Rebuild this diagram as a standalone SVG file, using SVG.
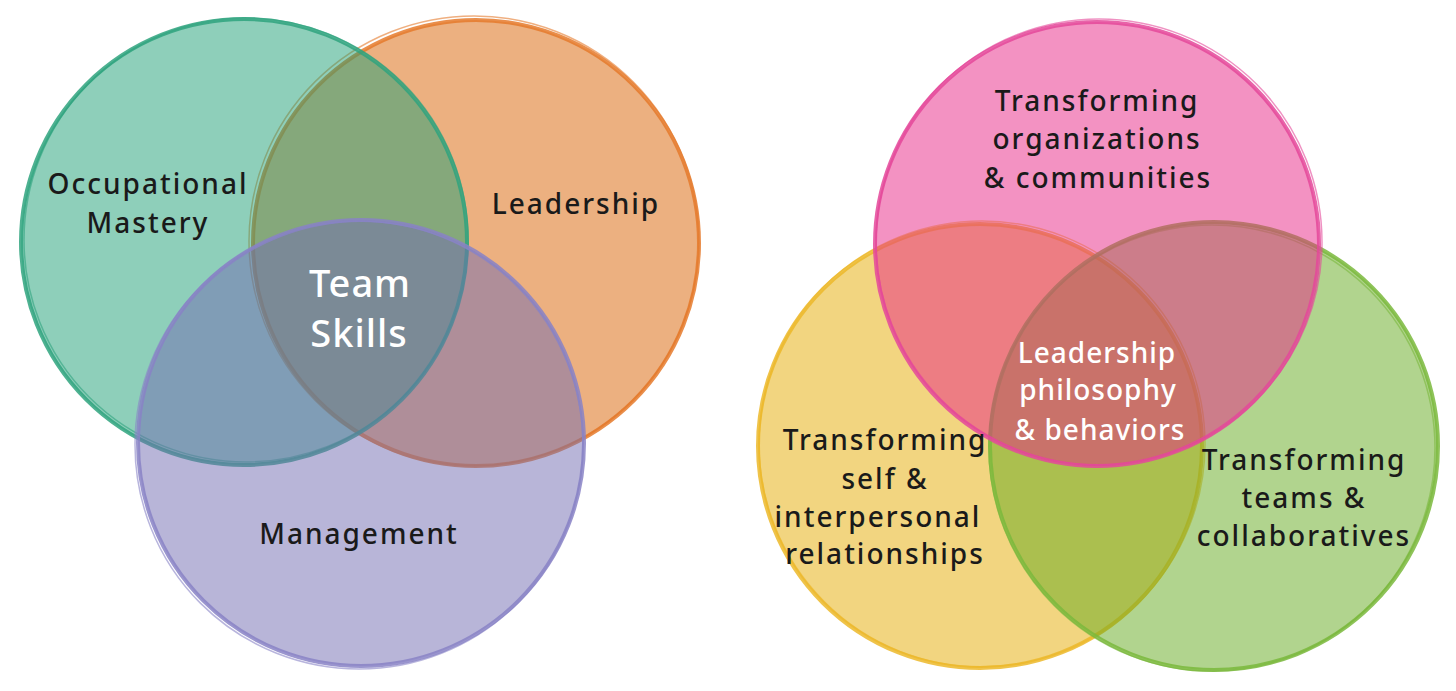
<svg xmlns="http://www.w3.org/2000/svg" width="1456" height="691" viewBox="0 0 1456 691">
  <style>
    .lbl { font-family: "Noto Sans", "DejaVu Sans", sans-serif; font-size: 28px; font-weight: 500; fill: #1a1a1a; text-anchor: middle; letter-spacing: 2px; }
    .core { font-family: "Noto Sans", "DejaVu Sans", sans-serif; font-weight: 500; fill: #ffffff; text-anchor: middle; letter-spacing: 1px; }
    .fill { fill-opacity: 0.5; stroke: none; }
    .edge { fill: none; stroke-width: 4; stroke-opacity: 0.85; }
    .edge2 { fill: none; stroke-width: 1.5; stroke-opacity: 0.6; }
  </style>
  <rect width="1456" height="691" fill="#ffffff"/>

  <!-- Left Venn -->
  <g id="leadership-circle">
    <circle class="fill" cx="476" cy="243" r="223" fill="#d96101"/>
    <circle class="edge" cx="476" cy="243" r="223" stroke="#e57a2c"/>
    <circle class="edge2" cx="474" cy="241" r="225" stroke="#e57a2c"/>
  </g>
  <g id="occupational-circle">
    <circle class="fill" cx="244" cy="242" r="223" fill="#1d9f75"/>
    <circle class="edge" cx="244" cy="242" r="223" stroke="#2fa37e"/>
    <circle class="edge2" cx="246" cy="240" r="222" stroke="#2fa37e"/>
  </g>
  <g id="management-circle">
    <circle class="fill" cx="361" cy="443" r="223" fill="#716bb1"/>
    <circle class="edge" cx="361" cy="443" r="223" stroke="#8883c6"/>
    <circle class="edge2" cx="359" cy="445" r="224" stroke="#8883c6"/>
  </g>

  <!-- Right Venn -->
  <g id="self-circle">
    <circle class="fill" cx="980" cy="446" r="222" fill="#e5ab01"/>
    <circle class="edge" cx="980" cy="446" r="222" stroke="#ecb82a"/>
    <circle class="edge2" cx="982" cy="444" r="223" stroke="#ecb82a"/>
  </g>
  <g id="teams-circle">
    <circle class="fill" cx="1214" cy="446" r="224" fill="#63a91d"/>
    <circle class="edge" cx="1214" cy="446" r="224" stroke="#7ab83c"/>
    <circle class="edge2" cx="1212" cy="448" r="223" stroke="#7ab83c"/>
  </g>
  <g id="organizations-circle">
    <circle class="fill" cx="1097" cy="244" r="222" fill="#e72585"/>
    <circle class="edge" cx="1097" cy="244" r="222" stroke="#e4489a"/>
    <circle class="edge2" cx="1099" cy="242" r="223" stroke="#e4489a"/>
  </g>

  <g id="connectors"></g>

  <g id="labels">
    <text class="lbl" x="148" y="194">Occupational</text>
    <text class="lbl" x="148" y="233">Mastery</text>
    <text class="lbl" x="576" y="214">Leadership</text>
    <text class="lbl" x="359" y="544">Management</text>
    <text class="core" x="360" y="297" font-size="38" font-weight="600">Team</text>
    <text class="core" x="359" y="347" font-size="38" font-weight="600">Skills</text>

    <text class="lbl" x="1097" y="111">Transforming</text>
    <text class="lbl" x="1097" y="149">organizations</text>
    <text class="lbl" x="1098" y="188">&amp; communities</text>
    <text class="core" x="1097" y="363" font-size="28">Leadership</text>
    <text class="core" x="1098" y="400" font-size="28">philosophy</text>
    <text class="core" x="1100" y="440" font-size="28">&amp; behaviors</text>
    <text class="lbl" x="885" y="450">Transforming</text>
    <text class="lbl" x="885" y="489">self &amp;</text>
    <text class="lbl" x="878" y="527">interpersonal</text>
    <text class="lbl" x="885" y="564">relationships</text>
    <text class="lbl" x="1304" y="470">Transforming</text>
    <text class="lbl" x="1304" y="508">teams &amp;</text>
    <text class="lbl" x="1304" y="546">collaboratives</text>
  </g>
</svg>
